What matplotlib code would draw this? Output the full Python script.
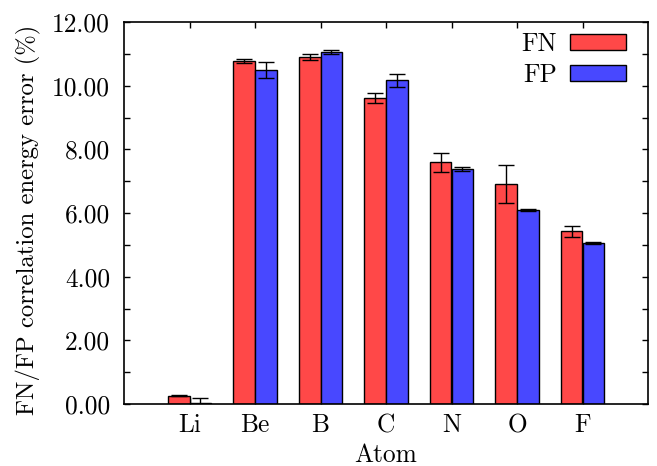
import numpy as np
import matplotlib
matplotlib.use('Agg')
import matplotlib.pyplot as plt
from matplotlib.ticker import MultipleLocator, FormatStrFormatter

# Dados
atoms = ['Li', 'Be', 'B', 'C', 'N', 'O', 'F']
fn_err = [0.26, 10.78, 10.91, 9.60, 7.59, 6.91, 5.42]
fn_sd = [0.02, 0.06, 0.09, 0.16, 0.31, 0.60, 0.18]
fp_err = [0.04, 10.48, 11.05, 10.17, 7.37, 6.08, 5.05]
fp_sd = [0.15, 0.25, 0.06, 0.20, 0.06, 0.03, 0.03]

plt.rcParams['font.family'] = 'serif'
plt.rcParams['font.serif'] = ['cmr10', 'DejaVu Serif']
plt.rcParams['mathtext.fontset'] = 'cm'
plt.rcParams['axes.formatter.use_mathtext'] = True

fs = 18.3
fig = plt.figure(figsize=(6.57, 4.66), dpi=100)
ax = fig.add_axes([124 / 657, 1 - 404 / 466, 524 / 657, 382 / 466])

x = np.arange(1, len(atoms) + 1)
w = 0.335
ax.bar(x - w / 2, fn_err, w, color='#ff4848', edgecolor='black', linewidth=1.0, label='FN', zorder=2)
ax.bar(x + w / 2, fp_err, w, color='#4848ff', edgecolor='black', linewidth=1.0, label='FP', zorder=2)
ax.errorbar(x - w / 2, fn_err, yerr=fn_sd, fmt='none', ecolor='black', elinewidth=1.0, capsize=6, capthick=1.0, zorder=3)
ax.errorbar(x + w / 2, fp_err, yerr=fp_sd, fmt='none', ecolor='black', elinewidth=1.0, capsize=6, capthick=1.0, zorder=3)

ax.set_xlim(0, 8)
ax.set_ylim(0, 12)
ax.set_xticks(x)
ax.set_xticklabels(atoms)
ax.yaxis.set_major_locator(MultipleLocator(2))
ax.yaxis.set_minor_locator(MultipleLocator(1))
ax.yaxis.set_major_formatter(FormatStrFormatter('%.2f'))
ax.tick_params(which='both', direction='in', top=True, right=True, length=4.5, width=1.0, labelsize=fs)
ax.tick_params(axis='y', pad=10)
ax.tick_params(axis='x', pad=7)
for s in ax.spines.values():
    s.set_linewidth(1.2)

ax.set_xlabel('Atom', fontsize=fs, labelpad=4)
ax.set_ylabel('FN/FP correlation energy error (%)', fontsize=17.8)
ax.yaxis.set_label_coords(-0.158, 0.482)

ax.legend(loc='upper right', bbox_to_anchor=(0.977, 1.0), borderaxespad=0,
          frameon=False, fontsize=fs, markerfirst=False,
          handlelength=2.2, handleheight=0.6, labelspacing=0.3,
          handletextpad=0.5)

plt.savefig('out.png', dpi=100)
